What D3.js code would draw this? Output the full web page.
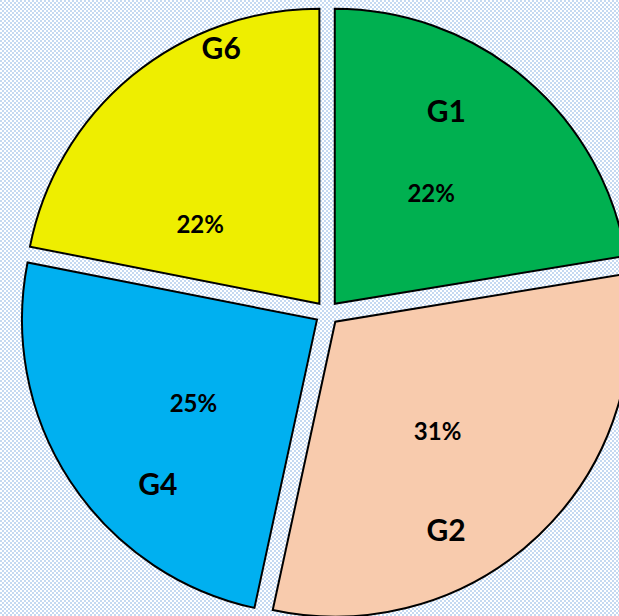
<!DOCTYPE html>
<html>
<head>
<meta charset="utf-8">
<script src="https://cdn.jsdelivr.net/npm/d3@7/dist/d3.min.js"></script>
<style>
  html, body { margin: 0; padding: 0; background: #fff; }
  svg { display: block; }
  .label { font-family: Lato, "Open Sans", sans-serif; font-weight: bold; fill: #000; }
</style>
</head>
<body>
<div id="chart"></div>
<script>
// data
const groups = ["G1", "G2", "G4", "G6"];
const shares = [22.4, 31.0, 24.7, 21.9];
const colors = ["#00B050", "#F8CBAD", "#00B0F0", "#EEEE00"];

// label placement (polar offsets from each slice tip: angle deg, radius px)
const nameSpots = [[30, 223], [152, 236], [224, 229], [339, 274]];
const pctSpots = [[41, 147], [137, 150], [236, 149], [303.5, 143]];

const width = 619;
const height = 616;
const cx = 327;
const cy = 313;
const radius = 295;
const explode = 12;

const svg = d3.select("#chart")
  .append("svg")
  .attr("width", width)
  .attr("height", height);

// SET UP BACKGROUND PATTERN
const pat = svg.append("defs")
  .append("pattern")
  .attr("id", "bg")
  .attr("width", 4)
  .attr("height", 4)
  .attr("patternUnits", "userSpaceOnUse");
pat.append("rect").attr("width", 4).attr("height", 4).attr("fill", "#ffffff");
pat.append("rect").attr("width", 2).attr("height", 2).attr("fill", "#C5D9F1");
pat.append("rect").attr("x", 2).attr("y", 2).attr("width", 2).attr("height", 2).attr("fill", "#C5D9F1");

svg.append("rect")
  .attr("width", width)
  .attr("height", height)
  .attr("fill", "url(#bg)");

// PIE
const pie = d3.pie().sort(null).value(d => d)(shares);
const arc = d3.arc().innerRadius(0).outerRadius(radius);

const g = svg.append("g").attr("transform", `translate(${cx},${cy})`);

const slices = g.selectAll("g.slice")
  .data(pie)
  .join("g")
  .attr("class", "slice")
  .attr("transform", d => {
    const mid = (d.startAngle + d.endAngle) / 2;
    return `translate(${Math.sin(mid) * explode},${-Math.cos(mid) * explode})`;
  });

slices.append("path")
  .attr("d", arc)
  .attr("fill", (d, i) => colors[i])
  .attr("stroke", "#000")
  .attr("stroke-width", 2)
  .attr("stroke-linejoin", "miter");

const polar = ([deg, r]) => {
  const a = deg * Math.PI / 180;
  return [Math.sin(a) * r, -Math.cos(a) * r];
};

slices.append("text")
  .attr("class", "label")
  .attr("text-anchor", "middle")
  .attr("dy", "0.36em")
  .attr("font-size", 30)
  .attr("x", (d, i) => polar(nameSpots[i])[0])
  .attr("y", (d, i) => polar(nameSpots[i])[1])
  .text((d, i) => groups[i]);

slices.append("text")
  .attr("class", "label")
  .attr("text-anchor", "middle")
  .attr("dy", "0.36em")
  .attr("font-size", 24)
  .attr("x", (d, i) => polar(pctSpots[i])[0])
  .attr("y", (d, i) => polar(pctSpots[i])[1])
  .text((d, i) => Math.round(shares[i]) + "%");
</script>
</body>
</html>
